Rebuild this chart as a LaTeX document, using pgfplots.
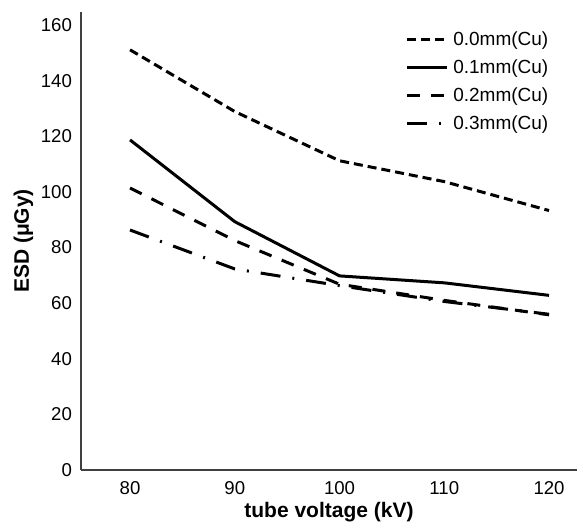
\documentclass[border=0pt]{standalone}
\usepackage{fontspec}
\setmainfont{Liberation Sans}
\usepackage{pgfplots}
\pgfplotsset{compat=1.18}

\begin{document}
\begin{tikzpicture}
\begin{axis}[
  scale only axis,
  width=248pt, height=229pt,
  xmin=75.32, xmax=122.67,
  ymin=0, ymax=164.7,
  axis lines=left,
  axis line style={black!75, line width=0.8pt, -},
  xtick={80,90,100,110,120},
  ytick={0,20,...,160},
  major tick length=0pt,
  tick label style={font=\fontsize{9.3}{10}\selectfont},
  /pgf/number format/assume math mode=true,
  xticklabel style={yshift=-2pt},
  yticklabel style={xshift=-1pt},
  xlabel={\textbf{tube voltage (kV)}},
  ylabel={\textbf{ESD (μGy)}},
  label style={font=\fontsize{10.5}{12}\selectfont},
  xlabel style={yshift=3pt},
  ylabel style={yshift=-3pt},
  legend style={draw=none, fill=none, at={(0.653,0.965)}, anchor=north west,
    font=\fontsize{9.5}{11}\selectfont, inner sep=0pt, row sep=2.6pt,
    nodes={inner ysep=1.5pt, inner xsep=2.5pt}},
  legend cell align=left,
  legend image code/.code={\draw[#1] (0pt,0pt) -- (20pt,0pt);},
  every axis plot/.append style={line width=1.5pt, black},
]
\addplot[dash pattern=on 4.5pt off 2.5pt] coordinates {
  (80,151.1) (90,128.9) (100,111.2) (110,103.7) (120,93.3)
};
\addplot[solid] coordinates {
  (80,118.7) (90,89.3) (100,69.8) (110,67.3) (120,62.8)
};
\addplot[dash pattern=on 6.5pt off 5.5pt] coordinates {
  (80,101.4) (90,82.5) (100,66.8) (110,61.0) (120,55.8)
};
\addplot[dash pattern=on 10pt off 6pt on 1pt off 6pt] coordinates {
  (80,86.3) (90,72.3) (100,66.3) (110,60.6) (120,56.0)
};
\legend{0.0mm(Cu),0.1mm(Cu),0.2mm(Cu),0.3mm(Cu)}
\end{axis}
\path[use as bounding box] (current axis.south west) ++(-40.5pt,-25.5pt)
  rectangle ([shift={(0.5pt,6pt)}]current axis.north east);
\end{tikzpicture}
\end{document}
